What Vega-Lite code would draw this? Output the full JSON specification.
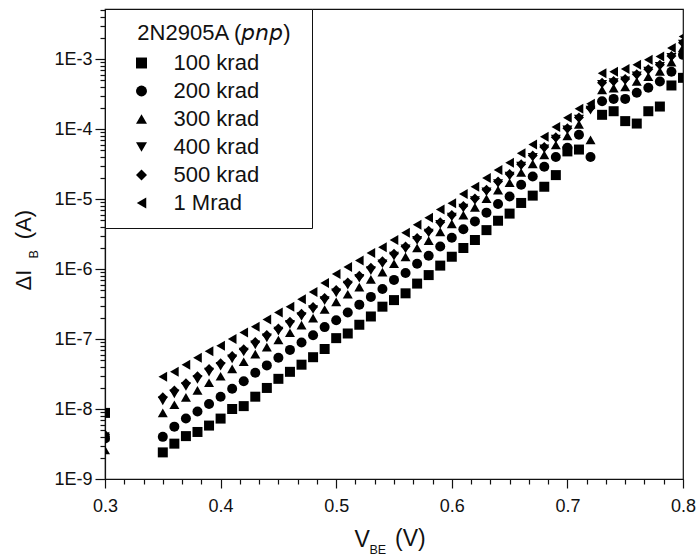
{
"$schema": "https://vega.github.io/schema/vega-lite/v6.json",
"width": 578, "height": 470,
"autosize": {"type": "none"},
"padding": {"left": 105, "top": 9, "right": 13, "bottom": 77},
"background": "white",
"title": {"text": "(V)", "orient": "top", "anchor": "start", "frame": "group", "offset": 0, "dx": 290, "dy": 568, "baseline": "alphabetic", "align": "left", "fontSize": 23, "font": "Liberation Sans", "fontWeight": "normal", "color": "#111"},
"config": {
  "view": {"stroke": "#111", "strokeWidth": 1.2},
  "font": "Liberation Sans",
  "axis": {"grid": false, "ticks": true, "domainColor": "#111", "tickColor": "#111", "labelColor": "#111", "titleColor": "#111", "labelFont": "Liberation Sans", "titleFont": "Liberation Sans", "titleFontWeight": "normal", "labelFontSize": 18, "domainWidth": 1.2, "tickWidth": 1.2, "labelFlush": false, "labelOverlap": false}
},
"data": {"values": [
{"V":0.30,"I":8.8e-9,"dose":"100 krad"},{"V":0.35,"I":2.4e-9,"dose":"100 krad"},{"V":0.36,"I":3.2e-9,"dose":"100 krad"},{"V":0.37,"I":4.1e-9,"dose":"100 krad"},{"V":0.38,"I":4.7e-9,"dose":"100 krad"},{"V":0.39,"I":5.8e-9,"dose":"100 krad"},{"V":0.40,"I":7.3e-9,"dose":"100 krad"},{"V":0.41,"I":1.0e-8,"dose":"100 krad"},{"V":0.42,"I":1.1e-8,"dose":"100 krad"},{"V":0.43,"I":1.5e-8,"dose":"100 krad"},{"V":0.44,"I":2.0e-8,"dose":"100 krad"},{"V":0.45,"I":2.7e-8,"dose":"100 krad"},{"V":0.46,"I":3.4e-8,"dose":"100 krad"},{"V":0.47,"I":4.3e-8,"dose":"100 krad"},{"V":0.48,"I":5.5e-8,"dose":"100 krad"},{"V":0.49,"I":7.2e-8,"dose":"100 krad"},{"V":0.50,"I":1.03e-7,"dose":"100 krad"},{"V":0.51,"I":1.2e-7,"dose":"100 krad"},{"V":0.52,"I":1.6e-7,"dose":"100 krad"},{"V":0.53,"I":2.1e-7,"dose":"100 krad"},{"V":0.54,"I":2.9e-7,"dose":"100 krad"},{"V":0.55,"I":3.6e-7,"dose":"100 krad"},{"V":0.56,"I":4.5e-7,"dose":"100 krad"},{"V":0.57,"I":6.2e-7,"dose":"100 krad"},{"V":0.58,"I":8.2e-7,"dose":"100 krad"},{"V":0.59,"I":1.12e-6,"dose":"100 krad"},{"V":0.60,"I":1.5e-6,"dose":"100 krad"},{"V":0.61,"I":2.0e-6,"dose":"100 krad"},{"V":0.62,"I":2.6e-6,"dose":"100 krad"},{"V":0.63,"I":3.6e-6,"dose":"100 krad"},{"V":0.64,"I":4.9e-6,"dose":"100 krad"},{"V":0.65,"I":6.2e-6,"dose":"100 krad"},{"V":0.66,"I":8.8e-6,"dose":"100 krad"},{"V":0.67,"I":1.12e-5,"dose":"100 krad"},{"V":0.68,"I":1.5e-5,"dose":"100 krad"},{"V":0.69,"I":2.2e-5,"dose":"100 krad"},{"V":0.70,"I":4.8e-5,"dose":"100 krad"},{"V":0.71,"I":5.1e-5,"dose":"100 krad"},{"V":0.73,"I":1.6e-4,"dose":"100 krad"},{"V":0.74,"I":1.8e-4,"dose":"100 krad"},{"V":0.75,"I":1.3e-4,"dose":"100 krad"},{"V":0.76,"I":1.2e-4,"dose":"100 krad"},{"V":0.77,"I":1.8e-4,"dose":"100 krad"},{"V":0.78,"I":2.1e-4,"dose":"100 krad"},{"V":0.79,"I":4.2e-4,"dose":"100 krad"},{"V":0.80,"I":5.4e-4,"dose":"100 krad"},
{"V":0.30,"I":3.8e-9,"dose":"200 krad"},{"V":0.35,"I":4.0e-9,"dose":"200 krad"},{"V":0.36,"I":5.6e-9,"dose":"200 krad"},{"V":0.37,"I":7.3e-9,"dose":"200 krad"},{"V":0.38,"I":9.2e-9,"dose":"200 krad"},{"V":0.39,"I":1.18e-8,"dose":"200 krad"},{"V":0.40,"I":1.5e-8,"dose":"200 krad"},{"V":0.41,"I":1.95e-8,"dose":"200 krad"},{"V":0.42,"I":2.5e-8,"dose":"200 krad"},{"V":0.43,"I":3.3e-8,"dose":"200 krad"},{"V":0.44,"I":4.2e-8,"dose":"200 krad"},{"V":0.45,"I":5.4e-8,"dose":"200 krad"},{"V":0.46,"I":7.0e-8,"dose":"200 krad"},{"V":0.47,"I":8.9e-8,"dose":"200 krad"},{"V":0.48,"I":1.13e-7,"dose":"200 krad"},{"V":0.49,"I":1.48e-7,"dose":"200 krad"},{"V":0.50,"I":1.85e-7,"dose":"200 krad"},{"V":0.51,"I":2.4e-7,"dose":"200 krad"},{"V":0.52,"I":3.1e-7,"dose":"200 krad"},{"V":0.53,"I":4.0e-7,"dose":"200 krad"},{"V":0.54,"I":5.2e-7,"dose":"200 krad"},{"V":0.55,"I":7.0e-7,"dose":"200 krad"},{"V":0.56,"I":8.8e-7,"dose":"200 krad"},{"V":0.57,"I":1.19e-6,"dose":"200 krad"},{"V":0.58,"I":1.55e-6,"dose":"200 krad"},{"V":0.59,"I":2.1e-6,"dose":"200 krad"},{"V":0.60,"I":2.8e-6,"dose":"200 krad"},{"V":0.61,"I":3.7e-6,"dose":"200 krad"},{"V":0.62,"I":4.8e-6,"dose":"200 krad"},{"V":0.63,"I":6.4e-6,"dose":"200 krad"},{"V":0.64,"I":8.5e-6,"dose":"200 krad"},{"V":0.65,"I":1.09e-5,"dose":"200 krad"},{"V":0.66,"I":1.6e-5,"dose":"200 krad"},{"V":0.67,"I":2.1e-5,"dose":"200 krad"},{"V":0.68,"I":2.9e-5,"dose":"200 krad"},{"V":0.69,"I":4.0e-5,"dose":"200 krad"},{"V":0.70,"I":5.4e-5,"dose":"200 krad"},{"V":0.71,"I":8.3e-5,"dose":"200 krad"},{"V":0.72,"I":4.0e-5,"dose":"200 krad"},{"V":0.73,"I":2.5e-4,"dose":"200 krad"},{"V":0.74,"I":2.7e-4,"dose":"200 krad"},{"V":0.75,"I":2.7e-4,"dose":"200 krad"},{"V":0.76,"I":3.3e-4,"dose":"200 krad"},{"V":0.77,"I":3.9e-4,"dose":"200 krad"},{"V":0.78,"I":4.8e-4,"dose":"200 krad"},{"V":0.79,"I":6.6e-4,"dose":"200 krad"},{"V":0.80,"I":1.15e-3,"dose":"200 krad"},
{"V":0.30,"I":2.6e-9,"dose":"300 krad"},{"V":0.35,"I":8.8e-9,"dose":"300 krad"},{"V":0.36,"I":1.15e-8,"dose":"300 krad"},{"V":0.37,"I":1.47e-8,"dose":"300 krad"},{"V":0.38,"I":1.85e-8,"dose":"300 krad"},{"V":0.39,"I":2.37e-8,"dose":"300 krad"},{"V":0.40,"I":2.94e-8,"dose":"300 krad"},{"V":0.41,"I":3.75e-8,"dose":"300 krad"},{"V":0.42,"I":4.74e-8,"dose":"300 krad"},{"V":0.43,"I":6.08e-8,"dose":"300 krad"},{"V":0.44,"I":7.66e-8,"dose":"300 krad"},{"V":0.45,"I":9.68e-8,"dose":"300 krad"},{"V":0.46,"I":1.23e-7,"dose":"300 krad"},{"V":0.47,"I":1.58e-7,"dose":"300 krad"},{"V":0.48,"I":1.99e-7,"dose":"300 krad"},{"V":0.49,"I":2.64e-7,"dose":"300 krad"},{"V":0.50,"I":3.39e-7,"dose":"300 krad"},{"V":0.51,"I":4.37e-7,"dose":"300 krad"},{"V":0.52,"I":5.52e-7,"dose":"300 krad"},{"V":0.53,"I":7.11e-7,"dose":"300 krad"},{"V":0.54,"I":9.04e-7,"dose":"300 krad"},{"V":0.55,"I":1.19e-6,"dose":"300 krad"},{"V":0.56,"I":1.49e-6,"dose":"300 krad"},{"V":0.57,"I":2.0e-6,"dose":"300 krad"},{"V":0.58,"I":2.55e-6,"dose":"300 krad"},{"V":0.59,"I":3.4e-6,"dose":"300 krad"},{"V":0.60,"I":4.43e-6,"dose":"300 krad"},{"V":0.61,"I":5.89e-6,"dose":"300 krad"},{"V":0.62,"I":7.59e-6,"dose":"300 krad"},{"V":0.63,"I":1.01e-5,"dose":"300 krad"},{"V":0.64,"I":1.34e-5,"dose":"300 krad"},{"V":0.65,"I":1.71e-5,"dose":"300 krad"},{"V":0.66,"I":2.4e-5,"dose":"300 krad"},{"V":0.67,"I":3.19e-5,"dose":"300 krad"},{"V":0.68,"I":4.29e-5,"dose":"300 krad"},{"V":0.69,"I":5.92e-5,"dose":"300 krad"},{"V":0.70,"I":7.98e-5,"dose":"300 krad"},{"V":0.71,"I":1.17e-4,"dose":"300 krad"},{"V":0.72,"I":7.0e-5,"dose":"300 krad"},{"V":0.73,"I":3.63e-4,"dose":"300 krad"},{"V":0.74,"I":3.85e-4,"dose":"300 krad"},{"V":0.75,"I":4.0e-4,"dose":"300 krad"},{"V":0.76,"I":4.79e-4,"dose":"300 krad"},{"V":0.77,"I":5.62e-4,"dose":"300 krad"},{"V":0.78,"I":6.67e-4,"dose":"300 krad"},{"V":0.79,"I":9.04e-4,"dose":"300 krad"},{"V":0.80,"I":1.46e-3,"dose":"300 krad"},
{"V":0.30,"I":3.6e-9,"dose":"400 krad"},{"V":0.35,"I":1.31e-8,"dose":"400 krad"},{"V":0.36,"I":1.65e-8,"dose":"400 krad"},{"V":0.37,"I":2.1e-8,"dose":"400 krad"},{"V":0.38,"I":2.64e-8,"dose":"400 krad"},{"V":0.39,"I":3.36e-8,"dose":"400 krad"},{"V":0.40,"I":4.09e-8,"dose":"400 krad"},{"V":0.41,"I":5.2e-8,"dose":"400 krad"},{"V":0.42,"I":6.52e-8,"dose":"400 krad"},{"V":0.43,"I":8.24e-8,"dose":"400 krad"},{"V":0.44,"I":1.04e-7,"dose":"400 krad"},{"V":0.45,"I":1.30e-7,"dose":"400 krad"},{"V":0.46,"I":1.62e-7,"dose":"400 krad"},{"V":0.47,"I":2.1e-7,"dose":"400 krad"},{"V":0.48,"I":2.64e-7,"dose":"400 krad"},{"V":0.49,"I":3.53e-7,"dose":"400 krad"},{"V":0.50,"I":4.57e-7,"dose":"400 krad"},{"V":0.51,"I":5.89e-7,"dose":"400 krad"},{"V":0.52,"I":7.38e-7,"dose":"400 krad"},{"V":0.53,"I":9.5e-7,"dose":"400 krad"},{"V":0.54,"I":1.19e-6,"dose":"400 krad"},{"V":0.55,"I":1.53e-6,"dose":"400 krad"},{"V":0.56,"I":1.94e-6,"dose":"400 krad"},{"V":0.57,"I":2.57e-6,"dose":"400 krad"},{"V":0.58,"I":3.27e-6,"dose":"400 krad"},{"V":0.59,"I":4.35e-6,"dose":"400 krad"},{"V":0.60,"I":5.55e-6,"dose":"400 krad"},{"V":0.61,"I":7.41e-6,"dose":"400 krad"},{"V":0.62,"I":9.55e-6,"dose":"400 krad"},{"V":0.63,"I":1.27e-5,"dose":"400 krad"},{"V":0.64,"I":1.67e-5,"dose":"400 krad"},{"V":0.65,"I":2.13e-5,"dose":"400 krad"},{"V":0.66,"I":2.95e-5,"dose":"400 krad"},{"V":0.67,"I":3.94e-5,"dose":"400 krad"},{"V":0.68,"I":5.22e-5,"dose":"400 krad"},{"V":0.69,"I":7.21e-5,"dose":"400 krad"},{"V":0.70,"I":9.73e-5,"dose":"400 krad"},{"V":0.71,"I":1.39e-4,"dose":"400 krad"},{"V":0.72,"I":1.87e-4,"dose":"400 krad"},{"V":0.73,"I":4.37e-4,"dose":"400 krad"},{"V":0.74,"I":4.61e-4,"dose":"400 krad"},{"V":0.75,"I":4.88e-4,"dose":"400 krad"},{"V":0.76,"I":5.75e-4,"dose":"400 krad"},{"V":0.77,"I":6.76e-4,"dose":"400 krad"},{"V":0.78,"I":7.87e-4,"dose":"400 krad"},{"V":0.79,"I":1.06e-3,"dose":"400 krad"},{"V":0.80,"I":1.64e-3,"dose":"400 krad"},
{"V":0.30,"I":4.3e-9,"dose":"500 krad"},{"V":0.35,"I":1.47e-8,"dose":"500 krad"},{"V":0.36,"I":1.84e-8,"dose":"500 krad"},{"V":0.37,"I":2.33e-8,"dose":"500 krad"},{"V":0.38,"I":2.94e-8,"dose":"500 krad"},{"V":0.39,"I":3.73e-8,"dose":"500 krad"},{"V":0.40,"I":4.52e-8,"dose":"500 krad"},{"V":0.41,"I":5.74e-8,"dose":"500 krad"},{"V":0.42,"I":7.16e-8,"dose":"500 krad"},{"V":0.43,"I":9.04e-8,"dose":"500 krad"},{"V":0.44,"I":1.14e-7,"dose":"500 krad"},{"V":0.45,"I":1.42e-7,"dose":"500 krad"},{"V":0.46,"I":1.76e-7,"dose":"500 krad"},{"V":0.47,"I":2.29e-7,"dose":"500 krad"},{"V":0.48,"I":2.88e-7,"dose":"500 krad"},{"V":0.49,"I":3.85e-7,"dose":"500 krad"},{"V":0.50,"I":5.0e-7,"dose":"500 krad"},{"V":0.51,"I":6.44e-7,"dose":"500 krad"},{"V":0.52,"I":8.05e-7,"dose":"500 krad"},{"V":0.53,"I":1.04e-6,"dose":"500 krad"},{"V":0.54,"I":1.29e-6,"dose":"500 krad"},{"V":0.55,"I":1.66e-6,"dose":"500 krad"},{"V":0.56,"I":2.1e-6,"dose":"500 krad"},{"V":0.57,"I":2.77e-6,"dose":"500 krad"},{"V":0.58,"I":3.52e-6,"dose":"500 krad"},{"V":0.59,"I":4.68e-6,"dose":"500 krad"},{"V":0.60,"I":5.93e-6,"dose":"500 krad"},{"V":0.61,"I":7.94e-6,"dose":"500 krad"},{"V":0.62,"I":1.02e-5,"dose":"500 krad"},{"V":0.63,"I":1.36e-5,"dose":"500 krad"},{"V":0.64,"I":1.79e-5,"dose":"500 krad"},{"V":0.65,"I":2.28e-5,"dose":"500 krad"},{"V":0.66,"I":3.14e-5,"dose":"500 krad"},{"V":0.67,"I":4.2e-5,"dose":"500 krad"},{"V":0.68,"I":5.55e-5,"dose":"500 krad"},{"V":0.69,"I":7.66e-5,"dose":"500 krad"},{"V":0.70,"I":1.03e-4,"dose":"500 krad"},{"V":0.71,"I":1.46e-4,"dose":"500 krad"},{"V":0.72,"I":2.0e-4,"dose":"500 krad"},{"V":0.73,"I":4.61e-4,"dose":"500 krad"},{"V":0.74,"I":4.86e-4,"dose":"500 krad"},{"V":0.75,"I":5.18e-4,"dose":"500 krad"},{"V":0.76,"I":6.08e-4,"dose":"500 krad"},{"V":0.77,"I":7.14e-4,"dose":"500 krad"},{"V":0.78,"I":8.28e-4,"dose":"500 krad"},{"V":0.79,"I":1.11e-3,"dose":"500 krad"},{"V":0.80,"I":1.71e-3,"dose":"500 krad"},
{"V":0.30,"I":4.0e-9,"dose":"1 Mrad"},{"V":0.35,"I":2.9e-8,"dose":"1 Mrad"},{"V":0.36,"I":3.4e-8,"dose":"1 Mrad"},{"V":0.37,"I":4.3e-8,"dose":"1 Mrad"},{"V":0.38,"I":5.4e-8,"dose":"1 Mrad"},{"V":0.39,"I":6.7e-8,"dose":"1 Mrad"},{"V":0.40,"I":8.0e-8,"dose":"1 Mrad"},{"V":0.41,"I":1.0e-7,"dose":"1 Mrad"},{"V":0.42,"I":1.24e-7,"dose":"1 Mrad"},{"V":0.43,"I":1.5e-7,"dose":"1 Mrad"},{"V":0.44,"I":1.9e-7,"dose":"1 Mrad"},{"V":0.45,"I":2.4e-7,"dose":"1 Mrad"},{"V":0.46,"I":2.9e-7,"dose":"1 Mrad"},{"V":0.47,"I":3.7e-7,"dose":"1 Mrad"},{"V":0.48,"I":4.7e-7,"dose":"1 Mrad"},{"V":0.49,"I":6.3e-7,"dose":"1 Mrad"},{"V":0.50,"I":8.5e-7,"dose":"1 Mrad"},{"V":0.51,"I":1.07e-6,"dose":"1 Mrad"},{"V":0.52,"I":1.32e-6,"dose":"1 Mrad"},{"V":0.53,"I":1.7e-6,"dose":"1 Mrad"},{"V":0.54,"I":2.05e-6,"dose":"1 Mrad"},{"V":0.55,"I":2.6e-6,"dose":"1 Mrad"},{"V":0.56,"I":3.3e-6,"dose":"1 Mrad"},{"V":0.57,"I":4.3e-6,"dose":"1 Mrad"},{"V":0.58,"I":5.4e-6,"dose":"1 Mrad"},{"V":0.59,"I":7.1e-6,"dose":"1 Mrad"},{"V":0.60,"I":8.7e-6,"dose":"1 Mrad"},{"V":0.61,"I":1.18e-5,"dose":"1 Mrad"},{"V":0.62,"I":1.5e-5,"dose":"1 Mrad"},{"V":0.63,"I":2.0e-5,"dose":"1 Mrad"},{"V":0.64,"I":2.6e-5,"dose":"1 Mrad"},{"V":0.65,"I":3.3e-5,"dose":"1 Mrad"},{"V":0.66,"I":4.5e-5,"dose":"1 Mrad"},{"V":0.67,"I":6.0e-5,"dose":"1 Mrad"},{"V":0.68,"I":7.8e-5,"dose":"1 Mrad"},{"V":0.69,"I":1.07e-4,"dose":"1 Mrad"},{"V":0.70,"I":1.45e-4,"dose":"1 Mrad"},{"V":0.71,"I":1.95e-4,"dose":"1 Mrad"},{"V":0.72,"I":2.3e-4,"dose":"1 Mrad"},{"V":0.73,"I":6.3e-4,"dose":"1 Mrad"},{"V":0.74,"I":6.6e-4,"dose":"1 Mrad"},{"V":0.75,"I":7.2e-4,"dose":"1 Mrad"},{"V":0.76,"I":8.3e-4,"dose":"1 Mrad"},{"V":0.77,"I":9.8e-4,"dose":"1 Mrad"},{"V":0.78,"I":1.09e-3,"dose":"1 Mrad"},{"V":0.79,"I":1.44e-3,"dose":"1 Mrad"},{"V":0.80,"I":2.1e-3,"dose":"1 Mrad"}
]},
"layer": [
  {
    "mark": {"type": "point", "filled": true, "color": "black", "opacity": 1, "size": 100, "strokeWidth": 0, "clip": true},
    "encoding": {
      "x": {"field": "V", "type": "quantitative", "scale": {"domain": [0.3, 0.8], "nice": false, "zero": false},
        "axis": {"orient": "bottom",
          "values": [0.3, 0.31667, 0.33333, 0.35, 0.36667, 0.38333, 0.4, 0.41667, 0.43333, 0.45, 0.46667, 0.48333, 0.5, 0.51667, 0.53333, 0.55, 0.56667, 0.58333, 0.6, 0.61667, 0.63333, 0.65, 0.66667, 0.68333, 0.7, 0.71667, 0.73333, 0.75, 0.76667, 0.78333, 0.8],
          "labelExpr": "abs(datum.value*10 - round(datum.value*10)) < 0.001 ? format(datum.value, '.1f') : ''",
          "tickSize": {"expr": "(abs(datum.value*10 - round(datum.value*10)) < 0.001 ? 9 : 5)"},
          "labelPadding": 9, "labelFontSize": 18,
          "title": "V", "titleFontSize": 23, "titleX": 249, "titleY": 67, "titleAlign": "left", "titleBaseline": "alphabetic"}},
      "y": {"field": "I", "type": "quantitative", "scale": {"type": "log", "domain": [1e-9, 5.2e-3], "nice": false},
        "axis": {"orient": "left",
          "values": [1e-9,2e-9,3e-9,4e-9,5e-9,6e-9,7e-9,8e-9,9e-9,1e-8,2e-8,3e-8,4e-8,5e-8,6e-8,7e-8,8e-8,9e-8,1e-7,2e-7,3e-7,4e-7,5e-7,6e-7,7e-7,8e-7,9e-7,1e-6,2e-6,3e-6,4e-6,5e-6,6e-6,7e-6,8e-6,9e-6,1e-5,2e-5,3e-5,4e-5,5e-5,6e-5,7e-5,8e-5,9e-5,1e-4,2e-4,3e-4,4e-4,5e-4,6e-4,7e-4,8e-4,9e-4,1e-3,2e-3,3e-3,4e-3,5e-3],
          "labelExpr": "abs(log(datum.value)/LN10 - round(log(datum.value)/LN10)) < 0.001 ? '1E' + round(log(datum.value)/LN10) : ''",
          "tickSize": {"expr": "(abs(log(datum.value)/LN10 - round(log(datum.value)/LN10)) < 0.001 ? 10 : 5)"},
          "labelPadding": 3, "labelFontSize": 18,
          "title": "ΔI\u00a0\u00a0\u00a0\u00a0\u00a0(A)", "titleFontSize": 22, "titleAngle": -90, "titleX": -74.6, "titleY": 281, "titleAlign": "left", "titleBaseline": "alphabetic"}},
      "shape": {"field": "dose", "type": "nominal",
        "scale": {"domain": ["100 krad", "200 krad", "300 krad", "400 krad", "500 krad", "1 Mrad"], "range": ["square", "circle", "triangle-up", "triangle-down", "diamond", "triangle-left"]},
        "legend": {"title": "\u200b\u00a0\u00a0\u00a02N2905A (𝘱𝘯𝘱)\u00a0\u200b", "orient": "top-left", "offset": 0, "padding": 14, "strokeColor": "#111", "fillColor": "white",
          "titleFontSize": 22, "titleFont": "Liberation Sans", "titleFontWeight": "normal", "titleColor": "#111", "titlePadding": 7, "titleLimit": 400,
          "labelFontSize": 22, "labelFont": "Liberation Sans", "labelColor": "#111", "labelLimit": 300,
          "symbolSize": 120, "symbolOffset": 11.5, "labelOffset": 21, "rowPadding": 6, "symbolStrokeWidth": 0, "symbolFillColor": "black"}}
    }
  },
  {
    "mark": {"type": "point", "opacity": 0},
    "transform": [{"filter": "datum.V == 0.5"}],
    "encoding": {
      "x": {"field": "V", "type": "quantitative", "scale": {"domain": [0.3, 0.8], "nice": false, "zero": false},
        "axis": {"orient": "top", "ticks": false, "labels": false, "domain": false,
          "title": "BE", "titleFontSize": 12.5, "titleX": 264, "titleY": 544, "titleAlign": "left", "titleBaseline": "alphabetic", "titleAngle": 0}},
      "y": {"field": "I", "type": "quantitative", "scale": {"type": "log", "domain": [1e-9, 5.2e-3], "nice": false},
        "axis": {"orient": "right", "ticks": false, "labels": false, "domain": false,
          "title": "B", "titleFontSize": 12.5, "titleAngle": -90, "titleX": -646, "titleY": 249, "titleAlign": "left", "titleBaseline": "alphabetic"}}
    }
  }
],
"resolve": {"axis": {"x": "independent", "y": "independent"}}
}
